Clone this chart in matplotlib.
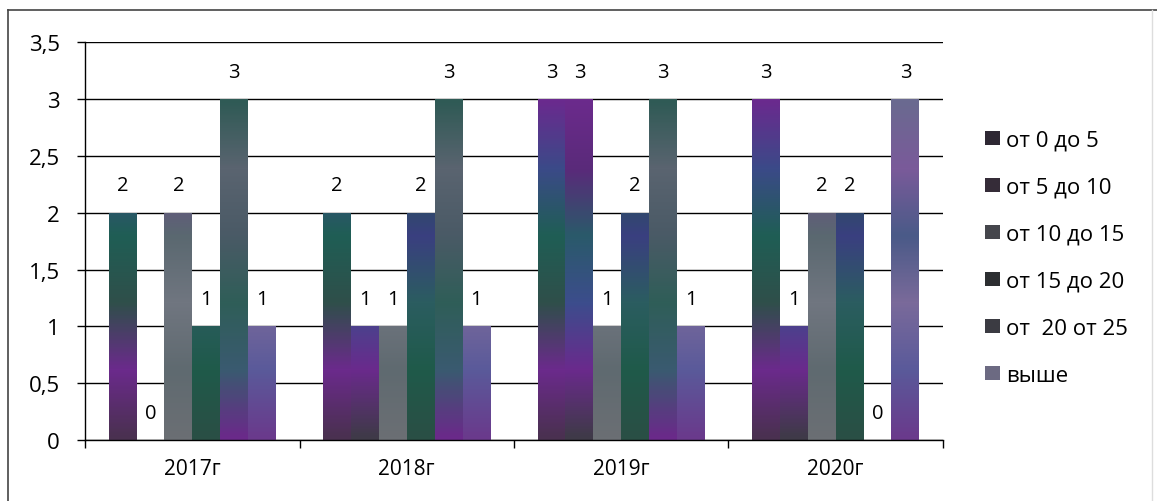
import numpy as np
import matplotlib.pyplot as plt
from matplotlib.colors import LinearSegmentedColormap
from matplotlib.lines import Line2D

years = ['2017г', '2018г', '2019г', '2020г']
series = ['от 0 до 5', 'от 5 до 10', 'от 10 до 15', 'от 15 до 20', 'от  20 от 25', 'выше']
values = [
    [2, 2, 3, 3],   # от 0 до 5
    [0, 1, 3, 1],   # от 5 до 10
    [2, 1, 1, 2],   # от 10 до 15
    [1, 2, 2, 2],   # от 15 до 20
    [3, 3, 3, 0],   # от 20 от 25
    [1, 1, 1, 3],   # выше
]
yticks = [0, 0.5, 1, 1.5, 2, 2.5, 3, 3.5]

legend_colors = ['#2e2833', '#352c38', '#45464c', '#2c2e31', '#3b3b42', '#6c6a82']
# scanned texture: bands of colour from bottom to top
textures = [
    ['#4a3150', '#6b2a8c', '#2f4f4a', '#1f5e55', '#3b4a88', '#6a2a8e'],
    ['#3f3a48', '#6a2a8c', '#3c4d8c', '#2a5a6a', '#5a2a7a', '#6b2a8c'],
    ['#6b6f74', '#5f6a70', '#707680', '#5a6870', '#6a4a8a', '#7a5a90'],
    ['#2a4f45', '#1f5a4a', '#2b5d60', '#3a3f80', '#1f5a4a', '#244f46'],
    ['#6a2a8a', '#3a5a70', '#2f5e58', '#4a5a66', '#5a6470', '#2f5a55'],
    ['#6a3a8c', '#5a5a9a', '#7a6a9a', '#4a5a88', '#7a5a9a', '#6a6a90'],
]

W, H = 1157, 502
fig = plt.figure(figsize=(W / 100, H / 100), dpi=100)
plt.rcParams['font.family'] = ['Open Sans', 'DejaVu Sans']
ax = fig.add_axes([0.0735, 0.1215, 0.815 - 0.0735, 0.914 - 0.1215])

x = np.arange(len(years))
w = 0.13
grad = np.linspace(0, 1, 64).reshape(-1, 1)
for i, name in enumerate(series):
    cmap = LinearSegmentedColormap.from_list('t%d' % i, textures[i])
    xs = x + (i - 2.5) * w
    bars = ax.bar(xs, values[i], width=w, color=legend_colors[i], label=name, zorder=2)
    for b, v in zip(bars, values[i]):
        if v == 0:
            continue
        im = ax.imshow(grad, extent=[b.get_x(), b.get_x() + w, 0, 3], origin='lower',
                       aspect='auto', cmap=cmap, zorder=2.5, interpolation='bicubic')
        im.set_clip_path(b)
    for xi, v in zip(xs, values[i]):
        ax.text(xi, v + 0.24, str(v), ha='center', va='center', fontsize=14.5, zorder=4,
                bbox=dict(facecolor='white', edgecolor='none', pad=3))

ax.set_xlim(-0.5, 3.5)
ax.set_ylim(0, 3.5)
ax.set_yticks(yticks)
ax.set_yticklabels([('%g' % t).replace('.', ',') for t in yticks], fontsize=16)
ax.set_xticks(x)
ax.set_xticklabels(years, fontsize=15)
ax.set_xticks(np.arange(-0.5, 3.6, 1), minor=True)
ax.tick_params(axis='x', which='major', length=0, pad=13)
ax.tick_params(axis='x', which='minor', length=6, width=1, direction='out')
ax.tick_params(axis='y', length=6, width=1, pad=12)
ax.grid(axis='y', color='black', linewidth=1, zorder=1)
ax.set_axisbelow(True)
for s in ['top', 'right']:
    ax.spines[s].set_visible(False)
ax.spines['left'].set_linewidth(1)
ax.spines['bottom'].set_linewidth(1)

# legend: swatch left at x=985 px, first row centre at y=139 px, rows 47 px apart
fs = 16
leg_kw = dict(loc='upper left', bbox_transform=fig.transFigure, frameon=False, fontsize=fs,
              handlelength=0.68, handleheight=0.62, handletextpad=0.25)
anchor = [0.84, 0.77]
spacing = 0.9
leg = ax.legend(bbox_to_anchor=anchor, labelspacing=spacing, **leg_kw)
fig.canvas.draw()
r = fig.canvas.get_renderer()
ext = [h.get_window_extent(r) for h in leg.legend_handles]
step = (ext[0].y0 - ext[-1].y0) / 5
spacing += (47 - step) / (fs * 100 / 72)
leg.remove()
leg = ax.legend(bbox_to_anchor=anchor, labelspacing=spacing, **leg_kw)
fig.canvas.draw()
ext = [h.get_window_extent(r) for h in leg.legend_handles]
dx = 985 - ext[0].x0
dy = (H - 139) - (ext[0].y0 + ext[0].y1) / 2
leg.set_bbox_to_anchor((anchor[0] + dx / W, anchor[1] + dy / H), transform=fig.transFigure)

# frame of the scanned picture (left and top edges, faint right edge)
fig.add_artist(Line2D([8 / W, 8 / W], [0, 1 - 11 / H], color='#444444', linewidth=1.2))
fig.add_artist(Line2D([8 / W, 1], [1 - 11 / H, 1 - 11 / H], color='#444444', linewidth=1.2))
fig.add_artist(Line2D([1152 / W, 1152 / W], [0, 1 - 11 / H], color='#dddddd', linewidth=1))

fig.savefig('out.png', dpi=100)
